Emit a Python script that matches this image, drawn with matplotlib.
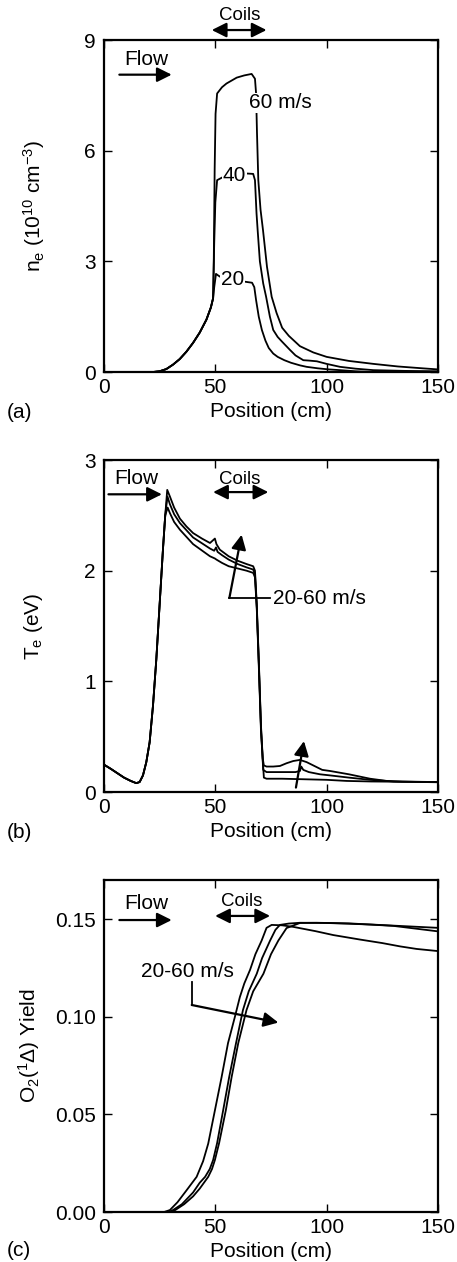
import matplotlib
matplotlib.use("Agg")
import matplotlib.pyplot as plt

plt.rcParams['font.family'] = ['Liberation Sans', 'DejaVu Sans']
plt.rcParams['mathtext.fontset'] = 'custom'
plt.rcParams['mathtext.rm'] = 'Liberation Sans'
plt.rcParams['mathtext.it'] = 'Liberation Sans:italic'

# ---- (a) electron density, 10^10 cm^-3 ----
ne20_x = [0, 22, 25, 28, 31, 34, 37, 40, 43, 46, 48, 49, 49.5, 50.3, 51.2, 53, 58, 63, 66.5,
          67.5, 68.3, 69.5, 70.9, 72.5, 74, 76, 78, 81, 84, 88, 91, 96, 101, 106, 113, 120, 150]
ne20_y = [0, 0, 0.02, 0.08, 0.2, 0.35, 0.55, 0.79, 1.07, 1.42, 1.75, 2.0, 2.3, 2.66, 2.62, 2.55, 2.5, 2.45, 2.42,
          2.3, 1.95, 1.5, 1.14, 0.85, 0.65, 0.5, 0.41, 0.32, 0.25, 0.18, 0.14, 0.1, 0.07, 0.05, 0.02, 0.0, 0.0]

ne40_x = [0, 22, 25, 28, 31, 34, 37, 40, 43, 46, 48, 49, 49.5, 50, 50.8, 53.6, 58, 64.4, 67,
          67.8, 68.5, 69, 70, 71.5, 72.8, 74.5, 76, 78, 80, 83.5, 86, 89.5, 92, 95.6, 100, 106,
          113, 121, 135, 150]
ne40_y = [0, 0, 0.02, 0.08, 0.2, 0.35, 0.55, 0.79, 1.07, 1.42, 1.75, 2.0, 3.5, 4.6, 5.2, 5.29, 5.33, 5.38, 5.37,
          5.2, 4.3, 3.85, 3.0, 2.4, 2.04, 1.5, 1.14, 0.95, 0.82, 0.6, 0.45, 0.32, 0.31, 0.29, 0.22, 0.14,
          0.09, 0.05, 0.03, 0.02]

ne60_x = [0, 22, 25, 28, 31, 34, 37, 40, 43, 46, 48, 49, 49.3, 49.7, 50.1, 50.8, 53, 55, 59.6, 63, 66.3,
          67.8, 68.3, 68.7, 69.3, 70.3, 71.4, 73.2, 75.3, 77.5, 80, 83, 88, 94, 100, 110, 121, 132,
          143, 150]
ne60_y = [0, 0, 0.02, 0.08, 0.2, 0.35, 0.55, 0.79, 1.07, 1.42, 1.75, 2.0, 3.0, 5.5, 7.0, 7.55, 7.72, 7.82, 7.98, 8.04, 8.08,
          7.95, 7.55, 6.5, 5.2, 4.4, 3.85, 2.85, 2.04, 1.6, 1.2, 0.98, 0.7, 0.53, 0.41, 0.3, 0.22, 0.15,
          0.1, 0.07]

# ---- (b) electron temperature, eV ----
te_rise_x = [0, 3, 6, 9, 12, 14.5, 16, 17.5, 19, 20.5, 22, 23.5, 25, 26.5, 27.5]
te_rise_y = [0.247, 0.21, 0.17, 0.13, 0.1, 0.08, 0.09, 0.15, 0.27, 0.45, 0.78, 1.2, 1.7, 2.2, 2.5]

te60_x = te_rise_x + [28.4, 29.6, 31.5, 34.1, 37, 40, 44, 47.6, 49.8, 50.5, 52, 56, 60, 64, 67,
                      67.8, 68.6, 69.5, 70.5, 71.3, 71.8, 73, 76, 79, 82, 85, 88, 91, 95, 98,
                      101.5, 110, 119.5, 127, 134, 150]
te60_y = te_rise_y + [2.73, 2.67, 2.57, 2.47, 2.4, 2.34, 2.29, 2.25, 2.29, 2.24, 2.19, 2.13, 2.09, 2.06, 2.04,
                      2.0, 1.7, 1.2, 0.6, 0.3, 0.24, 0.23, 0.23, 0.235, 0.26, 0.28, 0.29, 0.27, 0.23, 0.2,
                      0.19, 0.16, 0.12, 0.1, 0.093, 0.088]

te40_x = te_rise_x + [28.5, 29.6, 31.5, 34.1, 40, 47.6, 49.5, 50.3, 51, 53, 56, 60, 64, 67,
                      67.8, 68.6, 69.5, 70.5, 71.5, 73, 80, 86, 88, 88.6, 89.5, 92, 97,
                      101.5, 110, 119.5, 130, 150]
te40_y = te_rise_y + [2.67, 2.6, 2.51, 2.43, 2.3, 2.2, 2.18, 2.21, 2.17, 2.14, 2.1, 2.06, 2.03, 2.01,
                      1.97, 1.68, 1.18, 0.58, 0.2, 0.18, 0.18, 0.18, 0.19, 0.23, 0.2, 0.18, 0.16,
                      0.15, 0.13, 0.11, 0.095, 0.09]

te20_x = te_rise_x + [28.6, 29.6, 31.5, 34.1, 40, 47.6, 49.8, 50.5, 53, 56, 60, 64, 67,
                      67.8, 68.6, 69.5, 70.5, 71.8, 73, 80, 90, 100, 109, 120, 150]
te20_y = te_rise_y + [2.57, 2.52, 2.44, 2.37, 2.24, 2.13, 2.11, 2.1, 2.07, 2.04, 2.02, 2.0, 1.98,
                      1.94, 1.66, 1.15, 0.55, 0.13, 0.12, 0.12, 0.115, 0.11, 0.1, 0.095, 0.09]

# ---- (c) O2(1Delta) yield ----
y20_x = [0, 27, 29.6, 33, 37, 41.6, 44.5, 46.8, 49.8, 52.8, 55.7, 58.8, 61, 63, 65.6, 68, 70.8,
         73, 75.3, 80, 85, 95, 103, 115, 125, 133, 140.4, 150]
y20_y = [0, 0, 0.001, 0.005, 0.011, 0.018, 0.026, 0.035, 0.052, 0.069, 0.0865, 0.1, 0.11, 0.117, 0.124,
         0.132, 0.139, 0.1455, 0.147, 0.1468, 0.146, 0.1438, 0.1418, 0.1395, 0.1377, 0.136, 0.1347, 0.1336]

y40_x = [0, 29, 31, 35, 40, 43, 45.4, 47.5, 49, 50.8, 53.5, 56.2, 59.3, 62.4, 65, 68.6, 71, 74.6,
         77, 79, 83, 88, 100, 120, 150]
y40_y = [0, 0, 0.001, 0.004, 0.01, 0.015, 0.018, 0.022, 0.0266, 0.0353, 0.052, 0.069, 0.0865, 0.1034,
         0.113, 0.122, 0.13, 0.139, 0.1445, 0.147, 0.1477, 0.1481, 0.148, 0.1472, 0.1455]

y60_x = [0, 30, 32, 36, 40, 43, 46.8, 48.5, 49.8, 51.7, 54.7, 57.3, 60.3, 64, 67, 71.6, 75, 78.3,
         82, 88, 95.5, 110, 130, 150]
y60_y = [0, 0, 0.001, 0.004, 0.008, 0.012, 0.018, 0.022, 0.0266, 0.0353, 0.052, 0.069, 0.0865, 0.1034,
         0.113, 0.122, 0.132, 0.139, 0.1454, 0.148, 0.1481, 0.1478, 0.1465, 0.1437]

x_ticks = [0, 50, 100, 150]

W, H = 457, 1262
fig = plt.figure(figsize=(W / 100, H / 100), dpi=100)

FS = 15


def make_axes(top_px):
    left, right, height = 104, 438, 332
    ax = fig.add_axes([left / W, 1 - (top_px + height) / H, (right - left) / W, height / H])
    ax.set_xlim(0, 150)
    ax.set_xticks(x_ticks)
    ax.tick_params(direction='in', top=True, right=True, length=6, width=1,
                   labelsize=FS, pad=4)
    ax.tick_params(axis='y', pad=6)
    for s in ax.spines.values():
        s.set_linewidth(1.6)
    ax.set_xlabel('Position (cm)', fontsize=FS, labelpad=4)
    return ax


def arrow(ax, x0, y0, x1, y1, style='-|>'):
    ax.annotate('', xy=(x1, y1), xytext=(x0, y0), annotation_clip=False,
                arrowprops=dict(arrowstyle=style, color='k', lw=1.6,
                                mutation_scale=22, shrinkA=0, shrinkB=0))


lw = 1.3

# (a)
ax1 = make_axes(40)
ax1.set_ylim(0, 9)
ax1.set_yticks([0, 3, 6, 9])
ax1.plot(ne20_x, ne20_y, color='k', lw=lw)
ax1.plot(ne40_x, ne40_y, color='k', lw=lw)
ax1.plot(ne60_x, ne60_y, color='k', lw=lw)
box = dict(facecolor='white', edgecolor='none', pad=0.5)
ax1.text(57.8, 2.5, '20', fontsize=FS, ha='center', va='center', bbox=box)
ax1.text(58.5, 5.33, '40', fontsize=FS, ha='center', va='center', bbox=box)
ax1.text(79.4, 7.3, '60 m/s', fontsize=FS, ha='center', va='center', bbox=box)
arrow(ax1, 6.9, 8.06, 30.4, 8.06)
ax1.text(18.9, 8.48, 'Flow', fontsize=FS, ha='center', va='center')
arrow(ax1, 48.4, 9.27, 73.0, 9.27, '<|-|>')
ax1.text(61, 9.66, 'Coils', fontsize=13.5, ha='center', va='center')
ax1.set_ylabel(r'n$_\mathregular{e}$ (10$^\mathregular{10}$ cm$^\mathregular{-3}$)', fontsize=FS)
ax1.yaxis.set_label_coords(-0.17, 0.5)

# (b)
ax2 = make_axes(460)
ax2.set_ylim(0, 3)
ax2.set_yticks([0, 1, 2, 3])
ax2.plot(te20_x, te20_y, color='k', lw=lw)
ax2.plot(te40_x, te40_y, color='k', lw=lw)
ax2.plot(te60_x, te60_y, color='k', lw=lw)
arrow(ax2, 2.0, 2.69, 26.0, 2.69)
ax2.text(14.4, 2.83, 'Flow', fontsize=FS, ha='center', va='center')
arrow(ax2, 49.0, 2.71, 73.8, 2.71, '<|-|>')
ax2.text(61, 2.82, 'Coils', fontsize=13.5, ha='center', va='center')
ax2.plot([56.3, 74.6], [1.753, 1.753], color='k', lw=1.3)
arrow(ax2, 56.3, 1.753, 61.8, 2.325)
arrow(ax2, 86.2, 0.04, 89.8, 0.46)
ax2.text(76.0, 1.753, '20-60 m/s', fontsize=FS, ha='left', va='center')
ax2.set_ylabel(r'T$_\mathregular{e}$ (eV)', fontsize=FS)
ax2.yaxis.set_label_coords(-0.178, 0.5)

# (c)
ax3 = make_axes(880)
ax3.set_ylim(0, 0.17)
ax3.set_yticks([0, 0.05, 0.10, 0.15])
ax3.yaxis.set_major_formatter(matplotlib.ticker.FormatStrFormatter('%.2f'))
ax3.plot(y20_x, y20_y, color='k', lw=lw)
ax3.plot(y40_x, y40_y, color='k', lw=lw)
ax3.plot(y60_x, y60_y, color='k', lw=lw)
arrow(ax3, 6.9, 0.1495, 30.4, 0.1495)
ax3.text(18.9, 0.158, 'Flow', fontsize=FS, ha='center', va='center')
arrow(ax3, 49.9, 0.1516, 74.6, 0.1516, '<|-|>')
ax3.text(61.8, 0.159, 'Coils', fontsize=13.5, ha='center', va='center')
ax3.text(37.5, 0.123, '20-60 m/s', fontsize=FS, ha='center', va='center')
ax3.plot([39.4, 39.4], [0.118, 0.106], color='k', lw=1.3)
arrow(ax3, 39.4, 0.106, 78.3, 0.097)
ax3.set_ylabel(r'O$_\mathregular{2}$($^\mathregular{1}$Δ) Yield', fontsize=FS)
ax3.yaxis.set_label_coords(-0.185, 0.5)

for lab, ypx in (('(a)', 412), ('(b)', 832), ('(c)', 1251)):
    fig.text(19 / W, 1 - ypx / H, lab, fontsize=FS, ha='center', va='center')

fig.savefig('out.png', dpi=100)
